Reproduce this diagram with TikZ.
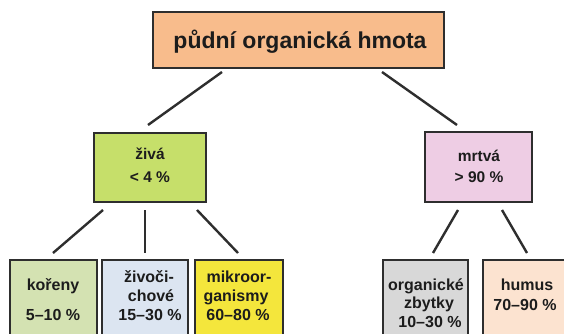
\documentclass[tikz,border=0pt]{standalone}
\usepackage{fontspec}
\setmainfont{Liberation Sans}
\definecolor{topfill}{HTML}{F8BC8C}
\definecolor{livefill}{HTML}{C6DF6A}
\definecolor{deadfill}{HTML}{EECDE4}
\definecolor{korfill}{HTML}{D4E2B2}
\definecolor{zivfill}{HTML}{DCE5F1}
\definecolor{mikfill}{HTML}{F4E63C}
\definecolor{orgfill}{HTML}{D8D8D8}
\definecolor{humfill}{HTML}{FCE3D0}
\definecolor{edgecol}{HTML}{2E2E2E}
\definecolor{txtcol}{HTML}{1C1C1C}
\tikzset{
  boxnode/.style={draw=edgecol, line width=2.4pt, inner sep=0pt},
  conn/.style={draw=edgecol, line width=2.4pt},
  lbltop/.style={anchor=base, inner sep=0pt, text=txtcol, font=\bfseries\fontsize{23}{27}\selectfont},
  lblmid/.style={anchor=base, inner sep=0pt, text=txtcol, font=\bfseries\fontsize{15.5}{18}\selectfont},
  lblbot/.style={anchor=base, inner sep=0pt, text=txtcol, font=\bfseries\fontsize{16}{19}\selectfont},
}
\begin{document}
\begin{tikzpicture}[x=1pt,y=-1pt]
\useasboundingbox (0,0) rectangle (564,334);
\clip (0,0) rectangle (564,334);
\fill[white] (0,0) rectangle (564,334);
% boxes
\path[boxnode, fill=topfill] (153,12) rectangle (444,68);
\node[coordinate] (topbox) at (298.5,40) {};
\path[boxnode, fill=livefill] (94,133) rectangle (206,202);
\path[boxnode, fill=deadfill] (425,132) rectangle (532,202);
\path[boxnode, fill=korfill] (10,260) rectangle (97,350);
\path[boxnode, fill=zivfill] (102,260) rectangle (188,350);
\path[boxnode, fill=mikfill] (195,260) rectangle (283,350);
\path[boxnode, fill=orgfill] (383,260) rectangle (468,350);
\path[boxnode, fill=humfill] (483,260) rectangle (572,350);
% connector end points
\coordinate (t1) at (222,72);   \coordinate (l1) at (148,125);
\coordinate (t2) at (382,72);   \coordinate (d1) at (457,125);
\coordinate (la) at (103,210);  \coordinate (ka) at (53,253);
\coordinate (lb) at (145,210);  \coordinate (zb) at (145,253);
\coordinate (lc) at (197,210);  \coordinate (mc) at (238,253);
\coordinate (da) at (458,210);  \coordinate (oa) at (433,253);
\coordinate (db) at (502,210);  \coordinate (hb) at (527,253);
\draw[conn] (t1) -- (l1);
\draw[conn] (t2) -- (d1);
\draw[conn] (la) -- (ka);
\draw[conn] (lb) -- (zb);
\draw[conn] (lc) -- (mc);
\draw[conn] (da) -- (oa);
\draw[conn] (db) -- (hb);
% labels
\node[lbltop] (ttop) at (300,49) {půdní organická hmota};
\node[lblmid] (tziva) at (150,159) {živá};
\node[lblmid] (tzivap) at (150,182) {< 4 \%};
\node[lblmid] (tmrtva) at (479,161) {mrtvá};
\node[lblmid] (tmrtvap) at (479,182) {> 90 \%};
\node[lblbot] (tkor) at (53,290) {kořeny};
\node[lblbot] (tkorp) at (53,320) {5–10 \%};
\node[lblbot] (tziv1) at (149,282) {živoči-};
\node[lblbot] (tziv2) at (151,301) {chové};
\node[lblbot] (tziv3) at (150,320) {15–30 \%};
\node[lblbot] (tmik1) at (239,282) {mikroor-};
\node[lblbot] (tmik2) at (236,301) {ganismy};
\node[lblbot] (tmik3) at (238,320) {60–80 \%};
\node[lblbot] (torg1) at (426,290) {organické};
\node[lblbot] (torg2) at (429,308) {zbytky};
\node[lblbot] (torg3) at (430,327) {10–30 \%};
\node[lblbot] (thum1) at (527,290) {humus};
\node[lblbot] (thum2) at (525,310) {70–90 \%};
\end{tikzpicture}
\end{document}
